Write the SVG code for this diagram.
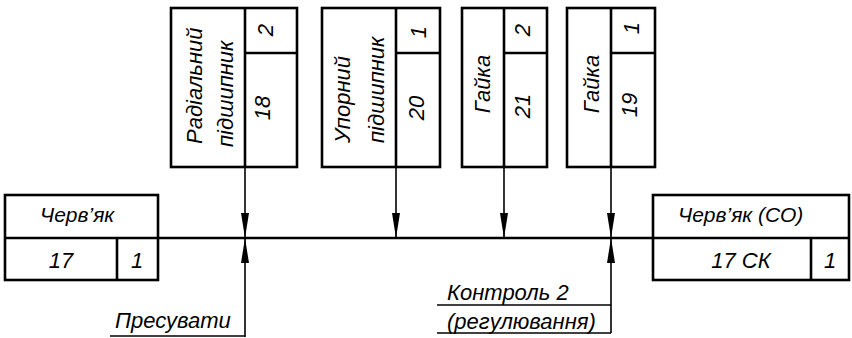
<svg xmlns="http://www.w3.org/2000/svg" width="852" height="338" viewBox="0 0 852 338">
<style>
.box{fill:none;stroke:#000;stroke-width:2.6}
.ln{fill:none;stroke:#000;stroke-width:1.6}
.main{fill:none;stroke:#000;stroke-width:2.4}
text{font-family:"Liberation Sans",Arial,sans-serif;font-style:italic;fill:#000;font-size:22px}
.m{text-anchor:middle}
</style>
<defs>
<marker id="ah" markerUnits="userSpaceOnUse" viewBox="0 0 25 8" refX="25" refY="4" markerWidth="25" markerHeight="8" orient="auto">
<path d="M0,0 L25,4 L0,8 z" fill="#000"/>
</marker>
</defs>
<rect width="852" height="338" fill="#fff"/>

<g id="connectors">
<line class="main" x1="158" y1="238" x2="653" y2="238"/>
<line class="ln" x1="245" y1="167" x2="245" y2="238" marker-end="url(#ah)"/>
<line class="ln" x1="396" y1="167" x2="396" y2="238" marker-end="url(#ah)"/>
<line class="ln" x1="504" y1="167" x2="504" y2="238" marker-end="url(#ah)"/>
<line class="ln" x1="611" y1="167" x2="611" y2="238" marker-end="url(#ah)"/>
<line class="ln" x1="245" y1="337" x2="245" y2="238" marker-end="url(#ah)"/>
<line class="ln" x1="611" y1="333" x2="611" y2="238" marker-end="url(#ah)"/>
</g>

<g id="n17">
<rect class="box" x="5" y="195" width="153" height="85"/>
<line class="box" x1="5" y1="238" x2="158" y2="238"/>
<line class="box" x1="117" y1="238" x2="117" y2="280"/>
<text x="40" y="222" style="font-size:21px">Черв’як</text>
<text class="m" x="61" y="268">17</text>
<text class="m" x="137" y="268">1</text>
</g>

<g id="n17ck">
<rect class="box" x="653" y="195" width="196" height="85"/>
<line class="box" x1="653" y1="238" x2="849" y2="238"/>
<line class="box" x1="811" y1="238" x2="811" y2="280"/>
<text x="678" y="222" style="font-size:21px">Черв’як (СО)</text>
<text class="m" x="741" y="268">17 СК</text>
<text class="m" x="830" y="268">1</text>
</g>

<g id="n18">
<rect class="box" x="171" y="8" width="126" height="159"/>
<line class="box" x1="245" y1="8" x2="245" y2="167"/>
<line class="box" x1="245" y1="53" x2="297" y2="53"/>
<text transform="translate(202,144) rotate(-90)">Радіальний</text>
<text transform="translate(233,147) rotate(-90)">підшипник</text>
<text class="m" transform="translate(273,30) rotate(-90)">2</text>
<text class="m" transform="translate(270,108) rotate(-90)">18</text>
</g>

<g id="n20">
<rect class="box" x="322" y="8" width="118" height="159"/>
<line class="box" x1="396" y1="8" x2="396" y2="167"/>
<line class="box" x1="396" y1="53" x2="440" y2="53"/>
<text transform="translate(350,143) rotate(-90)">Упорний</text>
<text transform="translate(384,143) rotate(-90)">підшипник</text>
<text class="m" transform="translate(426,32) rotate(-90)">1</text>
<text class="m" transform="translate(424,108) rotate(-90)">20</text>
</g>

<g id="n21">
<rect class="box" x="462" y="8" width="85" height="159"/>
<line class="box" x1="504" y1="8" x2="504" y2="167"/>
<line class="box" x1="504" y1="53" x2="547" y2="53"/>
<text class="m" transform="translate(490,84) rotate(-90)">Гайка</text>
<text class="m" transform="translate(530,30) rotate(-90)">2</text>
<text class="m" transform="translate(530,106) rotate(-90)">21</text>
</g>

<g id="n19">
<rect class="box" x="567" y="8" width="88" height="159"/>
<line class="box" x1="611" y1="8" x2="611" y2="167"/>
<line class="box" x1="611" y1="53" x2="655" y2="53"/>
<text class="m" transform="translate(599,84) rotate(-90)">Гайка</text>
<text class="m" transform="translate(639,28) rotate(-90)">1</text>
<text class="m" transform="translate(637,105) rotate(-90)">19</text>
</g>

<g id="press">
<line class="ln" x1="110" y1="336" x2="245" y2="336"/>
<text x="115" y="328">Пресувати</text>
</g>

<g id="control">
<line class="ln" x1="437" y1="305" x2="611" y2="305"/>
<line class="ln" x1="437" y1="333" x2="611" y2="333"/>
<text x="447" y="300">Контроль 2</text>
<text x="447" y="329">(регулювання)</text>
</g>
</svg>
